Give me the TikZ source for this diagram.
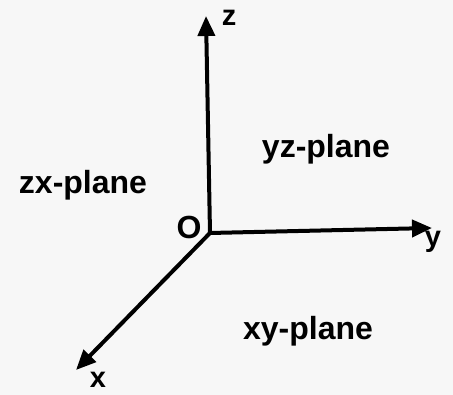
\documentclass[tikz,border=0pt]{standalone}
\usepackage{fontspec}
\setmainfont{Liberation Sans}
\usetikzlibrary{arrows.meta}
\begin{document}
\begin{tikzpicture}[x=1pt,y=1pt,
  axis/.style={line width=4pt,-{Triangle[length=20pt,width=17pt]}},
  plane/.style={font=\fontsize{32}{34}\selectfont\bfseries,inner sep=0pt},
  axlabel/.style={font=\fontsize{29}{30}\selectfont\bfseries,inner sep=0pt}]
\fill[gray!6] (0,0) rectangle (453,395);
\useasboundingbox (0,0) rectangle (453,395);
\coordinate (o) at (210,162);
\coordinate (zt) at (206,379);
\coordinate (yt) at (432,167);
\coordinate (xt) at (76,25);
\draw[axis] (o) -- (zt);
\draw[axis] (o) -- (yt);
\draw[axis] (o) -- (xt);
\node[axlabel] (zl) at (229,377) {z};
\node[axlabel] (yl) at (433,153) {y};
\node[axlabel] (xl) at (98,15) {x};
\node[plane] (ol) at (189,168) {O};
\node[plane] (zx) at (83,210) {zx-plane};
\node[plane] (yz) at (326,246) {yz-plane};
\node[plane] (xy) at (308,64) {xy-plane};
\end{tikzpicture}
\end{document}
